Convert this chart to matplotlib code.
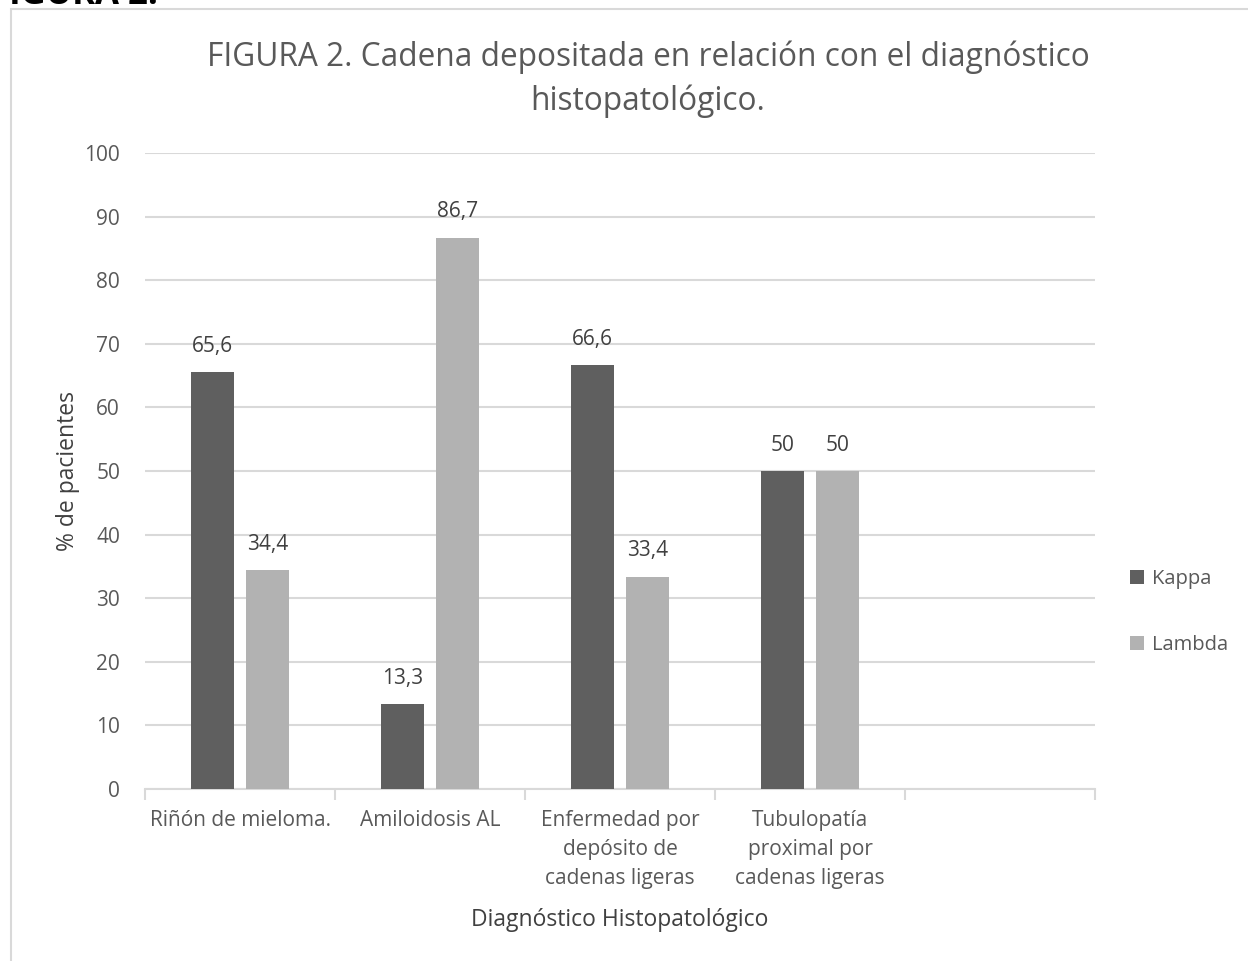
import matplotlib
matplotlib.use("Agg")
import matplotlib.pyplot as plt
import numpy as np
from matplotlib.patches import Rectangle

plt.rcParams['font.family'] = ['Open Sans', 'DejaVu Sans']

categorias = ['Riñón de mieloma.', 'Amiloidosis AL',
              'Enfermedad por\ndepósito de\ncadenas ligeras',
              'Tubulopatía\nproximal por\ncadenas ligeras', '']
kappa = [65.6, 13.3, 66.6, 50]
lambda_ = [34.4, 86.7, 33.4, 50]
etiquetas_kappa = ['65,6', '13,3', '66,6', '50']
etiquetas_lambda = ['34,4', '86,7', '33,4', '50']

gris_texto = '#595959'
gris_oscuro = '#404040'

fig = plt.figure(figsize=(12.48, 9.61), dpi=100)
ax = fig.add_axes([145 / 1248, 1 - 789 / 961, 950 / 1248, 636 / 961])

# marco del grafico
fig.patches.append(Rectangle((11 / 1248, -0.1), 1.2, (961 - 9) / 961 + 0.1,
                             transform=fig.transFigure, fill=False,
                             edgecolor='#d9d9d9', linewidth=1.5))

x = np.arange(len(kappa))
w = 0.225
b1 = ax.bar(x - 0.145, kappa, w, color='#5f5f5f', label='Kappa', zorder=3)
b2 = ax.bar(x + 0.145, lambda_, w, color='#b2b2b2', label='Lambda', zorder=3)

for r, t in zip(b1, etiquetas_kappa):
    ax.text(r.get_x() + r.get_width() / 2, r.get_height() + 2.4, t,
            ha='center', va='bottom', fontsize=15, color=gris_oscuro)
for r, t in zip(b2, etiquetas_lambda):
    ax.text(r.get_x() + r.get_width() / 2, r.get_height() + 2.4, t,
            ha='center', va='bottom', fontsize=15, color=gris_oscuro)

ax.set_xlim(-0.5, 4.5)
ax.set_ylim(0, 100)
ax.set_yticks(range(0, 101, 10))
ax.yaxis.grid(True, color='#d9d9d9', linewidth=1.5, zorder=0)
ax.set_axisbelow(True)

ax.set_xticks(np.arange(len(categorias)))
ax.set_xticklabels(categorias, linespacing=1.5)
ax.set_xticks(np.arange(-0.5, 4.6, 1), minor=True)
ax.tick_params(axis='x', which='major', length=0, pad=15, labelsize=15, labelcolor=gris_texto)
ax.tick_params(axis='x', which='minor', length=8, width=1.5, color='#d9d9d9')
ax.tick_params(axis='y', length=0, pad=18, labelsize=15, labelcolor=gris_texto)

for s in ['top', 'right', 'left']:
    ax.spines[s].set_visible(False)
ax.spines['bottom'].set_color('#d9d9d9')
ax.spines['bottom'].set_linewidth(1.5)

ax.set_ylabel('% de pacientes', fontsize=16.5, color=gris_oscuro, labelpad=3)
ax.set_xlabel('Diagnóstico Histopatológico', fontsize=16.5, color=gris_oscuro, labelpad=14)

fig.text(648 / 1248, 1 - 41 / 961,
         'FIGURA 2. Cadena depositada en relación con el diagnóstico\nhistopatológico.',
         ha='center', va='top', fontsize=22.8, color=gris_texto, linespacing=1.4)

fig.text(-0.008, 1 - 4 / 961, 'FIGURA 2.', ha='left', va='baseline',
         fontsize=25, fontweight='bold', color='black')

ax.legend(loc='center left', bbox_to_anchor=(1112 / 1248, 1 - 612 / 961),
          bbox_transform=fig.transFigure, frameon=False, fontsize=14.5,
          labelcolor=gris_texto, handlelength=0.7, handleheight=0.7,
          handletextpad=0.4, labelspacing=2.3)

fig.savefig('out.png', dpi=100)
